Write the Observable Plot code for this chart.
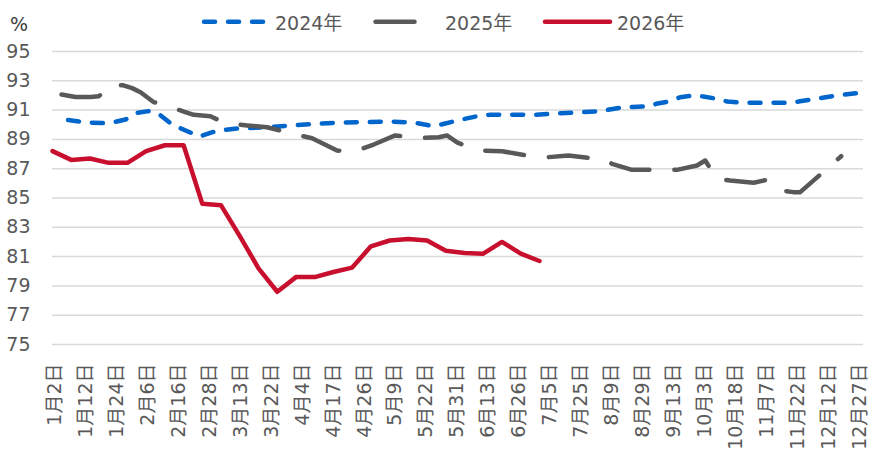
<!DOCTYPE html>
<html><head><meta charset="utf-8">
<script src="https://cdn.jsdelivr.net/npm/d3@7"></script>
<script src="https://cdn.jsdelivr.net/npm/@observablehq/plot@0.6"></script>
<style>
body{margin:0;background:#fff;}
#wrap{width:881px;height:458px;font-family:"DejaVu Sans","Noto Sans CJK SC",sans-serif;}
#legend{display:block;}
#chart svg{display:block;}
</style></head><body>
<div id="wrap"><svg id="legend" width="881" height="40"></svg><div id="chart"></div></div>
<script>
// X-axis labels (one label every ~1.65 weekly observations)
const labels = ["1月2日","1月12日","1月24日","2月6日","2月16日","2月28日","3月13日","3月22日","4月4日","4月17日","4月26日","5月9日","5月22日","5月31日","6月13日","6月26日","7月5日","7月25日","8月9日","8月29日","9月13日","10月3日","10月18日","11月7日","11月22日","12月12日","12月27日"];
const weeksPerLabel = 1.652;
const weekSpan = 43.3;
const yTicks = [75,77,79,81,83,85,87,89,91,93,95];

// 2026 weekly values (week index 0..26)
const v2026 = [88.2,87.6,87.7,87.4,87.4,88.2,88.6,88.6,84.6,84.5,82.4,80.2,78.6,79.6,79.6,79.95,80.25,81.7,82.1,82.2,82.1,81.4,81.25,81.2,82.0,81.2,80.7];

// 2024: position (in weeks) and value
const w2024 = [0.83,1.81,2.78,3.26,3.90,4.54,5.12,5.66,6.40,6.83,7.85,8.81,10.03,11.47,12.54,13.93,15.10,16.43,18.09,18.95,19.48,20.33,20.71,21.61,22.84,23.37,25.83,26.68,28.34,29.14,29.67,30.47,31.81,32.23,32.98,33.51,34.21,34.74,35.49,36.02,36.82,39.38,39.91,40.71,41.94,43.06];
const v2024 = [90.33,90.15,90.11,90.17,90.36,90.82,90.93,90.75,90.0,89.76,89.2,89.6,89.76,89.83,89.93,90.05,90.13,90.18,90.22,90.17,90.11,89.9,90.0,90.29,90.63,90.68,90.68,90.75,90.86,90.92,91.02,91.2,91.25,91.43,91.6,91.88,92.0,91.93,91.77,91.59,91.5,91.5,91.6,91.77,92.0,92.18];

// 2025: position (in weeks) and value
const w2025 = [0.48,1.23,2.03,2.47,2.67,3.10,3.74,4.25,4.70,5.41,5.94,7.01,7.54,8.43,9.23,10.39,11.46,12.17,12.79,13.86,15.19,16.08,17.15,18.30,19.46,20.62,21.06,21.60,22.22,22.84,24.00,25.33,26.40,27.55,29.07,29.51,29.87,30.94,33.34,34.41,34.85,35.47,36.18,37.43,38.14,38.94,39.56,39.92,42.11];
const v2025 = [92.06,91.9,91.9,91.95,92.15,92.7,92.7,92.5,92.22,91.54,91.36,90.9,90.68,90.58,90.11,89.95,89.83,89.6,89.38,89.08,88.24,88.17,88.65,89.27,89.08,89.15,89.27,88.8,88.47,88.24,88.19,87.9,87.78,87.9,87.68,87.63,87.33,86.92,86.92,87.22,87.56,86.31,86.19,86.04,86.24,85.51,85.4,85.4,87.85];

const seriesNames = ["2024年","2025年","2026年"];
const colors = ["#0066cc","#595959","#c8102e"];
const dashes = ["11,13","39,25",null];

const d2024 = w2024.map((w,i)=>({week:w, value:v2024[i]}));
const d2025 = w2025.map((w,i)=>({week:w, value:v2025[i]}));
const d2026 = v2026.map((v,i)=>({week:i, value:v}));
const tickPos = labels.map((_,i)=>i*weeksPerLabel);

const font = '"DejaVu Sans","Noto Sans CJK SC",sans-serif';
const lineOpts = (i)=>({x:"week", y:"value", stroke:colors[i], strokeWidth:4.5, strokeLinecap:"round", strokeLinejoin:"round", strokeDasharray:dashes[i] ?? undefined});

const chart = Plot.plot({
  width: 881, height: 418,
  marginTop: 11, marginBottom: 114, marginLeft: 52, marginRight: 18,
  style: {fontFamily: font, fontSize: "19px", color: "#595959", background: "white", overflow: "visible"},
  x: {domain: [0, weekSpan], axis: null},
  y: {domain: [75, 95], axis: null},
  marks: [
    Plot.gridY(yTicks, {stroke: "#d9d9d9", strokeOpacity: 1, strokeWidth: 1.5}),
    Plot.axisY(yTicks, {tickSize: 0, tickPadding: 22, fill: "#595959", fontSize: 19, label: null}),
    Plot.axisX(tickPos, {tickSize: 0, tickPadding: 19, tickRotate: -90, fill: "#595959", fontSize: 19, dx: 2.5, label: null,
      tickFormat: d => labels[Math.round(d / weeksPerLabel)]}),
    Plot.line(d2024, lineOpts(0)),
    Plot.line(d2025, lineOpts(1)),
    Plot.line(d2026, lineOpts(2))
  ]
});
document.getElementById("chart").appendChild(chart);

// Legend
const lg = d3.select("#legend").style("font-family", font);
lg.append("text").attr("x", 10).attr("y", 31).attr("fill", "#404040").style("font-size","19px").text("%");
const legendItems = [
  {x1: 204, x2: 263, tx: 275},
  {x1: 375.5, x2: 437, tx: 445},
  {x1: 545, x2: 610, tx: 617}
];
legendItems.forEach((it, i) => {
  const l = lg.append("line").attr("x1", it.x1).attr("x2", it.x2).attr("y1", 21.7).attr("y2", 21.7)
    .attr("stroke", colors[i]).attr("stroke-width", 4.5).attr("stroke-linecap", "round");
  if (dashes[i]) l.attr("stroke-dasharray", dashes[i]);
  lg.append("text").attr("x", it.tx).attr("y", 30).attr("fill", "#595959").style("font-size","19px").text(seriesNames[i]);
});
</script>
</body></html>
